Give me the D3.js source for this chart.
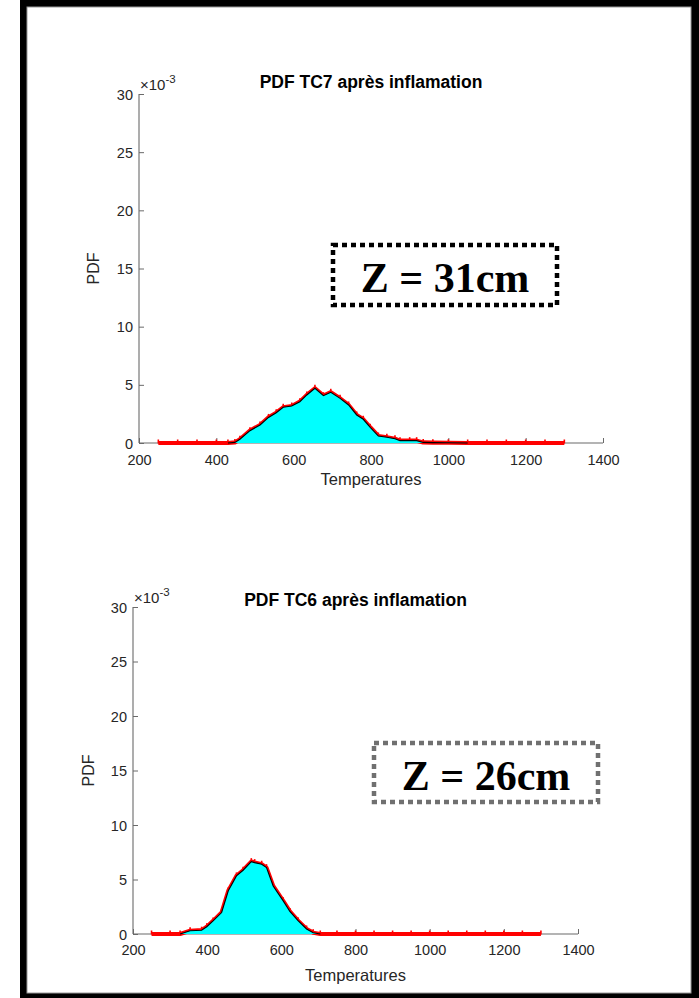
<!DOCTYPE html>
<html>
<head>
<meta charset="utf-8">
<script src="https://cdn.jsdelivr.net/npm/d3@7"></script>
<style>
  html, body { margin: 0; padding: 0; background: #fff; }
  svg { display: block; }
</style>
</head>
<body>
<svg id="fig" width="699" height="998"></svg>
<script>
// Temperature samples and probability density (x 1e-3) for thermocouple TC7
const tc7Temp = [250, 300, 350, 400, 430, 448, 461, 487, 513, 535, 555, 573, 595, 616, 634, 655, 677, 696, 720, 742, 763, 780, 798, 819, 841, 862, 875, 900, 918, 935, 960, 1000, 1050, 1100, 1150, 1200, 1250, 1300];
const tc7Pdf  = [0, 0, 0, 0, 0, 0.05, 0.32, 1.06, 1.55, 2.2, 2.6, 3.07, 3.18, 3.55, 4.13, 4.7, 4.07, 4.36, 3.84, 3.27, 2.41, 2.04, 1.35, 0.6, 0.49, 0.37, 0.2, 0.2, 0.2, 0.05, 0.03, 0.02, 0, 0, 0, 0, 0, 0];

// Temperature samples and probability density (x 1e-3) for thermocouple TC6
const tc6Temp = [250, 300, 327, 354, 385, 399, 416, 439, 457, 479, 497, 519, 528, 547, 560, 578, 605, 623, 645, 668, 686, 705, 750, 800, 850, 900, 950, 1000, 1050, 1100, 1150, 1200, 1250, 1300];
const tc6Pdf  = [0, 0, 0, 0.3, 0.35, 0.67, 1.2, 1.97, 3.96, 5.33, 5.85, 6.64, 6.55, 6.4, 6.09, 4.4, 3.04, 2.07, 1.22, 0.46, 0.12, 0, 0, 0, 0, 0, 0, 0, 0, 0, 0, 0, 0, 0];

const xTicks = [200, 400, 600, 800, 1000, 1200, 1400];
const yTicks = [0, 5, 10, 15, 20, 25, 30];

const SANS = '"Liberation Sans", Arial, Helvetica, sans-serif';
const SERIF = '"Liberation Serif", "Times New Roman", serif';

const svg = d3.select("#fig");

// Outer black frame
svg.append("rect").attr("x", 20).attr("y", 0).attr("width", 679).attr("height", 998).attr("fill", "#000");
svg.append("rect").attr("x", 27).attr("y", 7).attr("width", 664).attr("height", 986)
  .attr("fill", "#fff").attr("stroke", "#999").attr("stroke-width", 1);

const panels = [
  {
    title: "PDF TC7 après inflamation", temp: tc7Temp, pdf: tc7Pdf,
    x0: 139, x1: 603, y0: 443, y1: 94,
    titleY: 88, xLabY: 465, xTitleY: 485, yTitleX: 99,
    box: { x: 333, y: 245, w: 224, h: 60, color: "#000", label: "Z = 31cm", ty: 292 }
  },
  {
    title: "PDF TC6 après inflamation", temp: tc6Temp, pdf: tc6Pdf,
    x0: 133, x1: 578, y0: 934, y1: 607,
    titleY: 606, xLabY: 955, xTitleY: 981, yTitleX: 94,
    box: { x: 374, y: 743, w: 224, h: 59, color: "#707070", label: "Z = 26cm", ty: 790 }
  }
];

panels.forEach(p => {
  const x = d3.scaleLinear().domain([200, 1400]).range([p.x0, p.x1]);
  const y = d3.scaleLinear().domain([0, 30]).range([p.y0, p.y1]);
  const g = svg.append("g");
  const pts = p.temp.map((t, i) => [t, p.pdf[i]]);

  // Axes (left and bottom, ticks pointing inward)
  const xAxis = d3.axisBottom(x).tickValues(xTicks).tickSize(-5).tickPadding(9).tickFormat(d3.format("d"));
  const yAxis = d3.axisLeft(y).tickValues(yTicks).tickSize(-5).tickPadding(9).tickFormat(d3.format("d"));
  const gx = g.append("g").attr("transform", `translate(0,${p.y0})`).call(xAxis);
  const gy = g.append("g").attr("transform", `translate(${p.x0},0)`).call(yAxis);
  [gx, gy].forEach(a => {
    a.attr("font-family", SANS).attr("font-size", 14.5);
    a.select(".domain").attr("stroke", "#6a6a6a").attr("stroke-width", 1.1);
    a.selectAll(".tick line").attr("stroke", "#6a6a6a");
    a.selectAll(".tick text").attr("fill", "#262626");
  });
  gx.selectAll(".tick text").attr("y", null).attr("dy", null)
    .attr("transform", `translate(0,${p.xLabY - p.y0})`);
  gy.selectAll(".tick text").attr("x", -6).attr("dy", "0.35em");
  gx.select(".domain").attr("d", `M${p.x0},0H${p.x1}`);
  gy.select(".domain").attr("d", `M0,${p.y0}V${p.y1}`);

  // Red histogram-style trace with small markers
  const line = d3.line().x(d => x(d[0])).y(d => y(d[1]));
  g.append("path").datum(pts).attr("d", line)
    .attr("fill", "none").attr("stroke", "#ff0000").attr("stroke-width", 4.2)
    .attr("stroke-linejoin", "round");
  g.selectAll(".mk").data(pts).join("path")
    .attr("d", d => `M${x(d[0])},${y(d[1]) - 3.5}v4`)
    .attr("stroke", "#ff0000").attr("stroke-width", 1.6);

  // Cyan density area with black outline
  const area = d3.area().x(d => x(d[0])).y0(y(0)).y1(d => y(d[1]));
  const nz = pts.filter((d, i) => d[1] > 0 || (pts[i + 1] && pts[i + 1][1] > 0) || (pts[i - 1] && pts[i - 1][1] > 0));
  g.append("path").datum(nz).attr("d", area).attr("fill", "#00ffff");
  g.append("path").datum(nz).attr("d", line)
    .attr("fill", "none").attr("stroke", "#000").attr("stroke-width", 1.1);

  // Exponent label
  const ex = g.append("text").attr("x", p.x0 + 1).attr("y", p.y1 - 4)
    .attr("font-family", SANS).attr("font-size", 15).attr("fill", "#262626");
  ex.append("tspan").text("×10");
  ex.append("tspan").attr("dy", -7).attr("font-size", 11.5).text("-3");

  // Title and axis labels
  g.append("text").attr("x", (p.x0 + p.x1) / 2).attr("y", p.titleY)
    .attr("font-family", SANS).attr("fill", "#000")
    .attr("text-anchor", "middle").attr("font-weight", "bold").attr("font-size", 17.5).text(p.title);
  g.append("text").attr("x", (p.x0 + p.x1) / 2).attr("y", p.xTitleY)
    .attr("font-family", SANS).attr("fill", "#262626")
    .attr("text-anchor", "middle").attr("font-size", 16.5).text("Temperatures");
  g.append("text").attr("transform", `translate(${p.yTitleX},${(p.y0 + p.y1) / 2}) rotate(-90)`)
    .attr("font-family", SANS).attr("fill", "#262626")
    .attr("text-anchor", "middle").attr("font-size", 16).text("PDF");

  // Height annotation box
  const b = p.box;
  g.append("rect").attr("x", b.x).attr("y", b.y).attr("width", b.w).attr("height", b.h)
    .attr("fill", "#fff").attr("stroke", b.color).attr("stroke-width", 4.5)
    .attr("stroke-dasharray", "5,4");
  g.append("text").attr("x", b.x + b.w / 2).attr("y", b.ty).attr("text-anchor", "middle")
    .attr("font-family", SERIF).attr("font-weight", "bold").attr("font-size", 42)
    .attr("fill", "#000").text(b.label);
});
</script>
</body>
</html>
